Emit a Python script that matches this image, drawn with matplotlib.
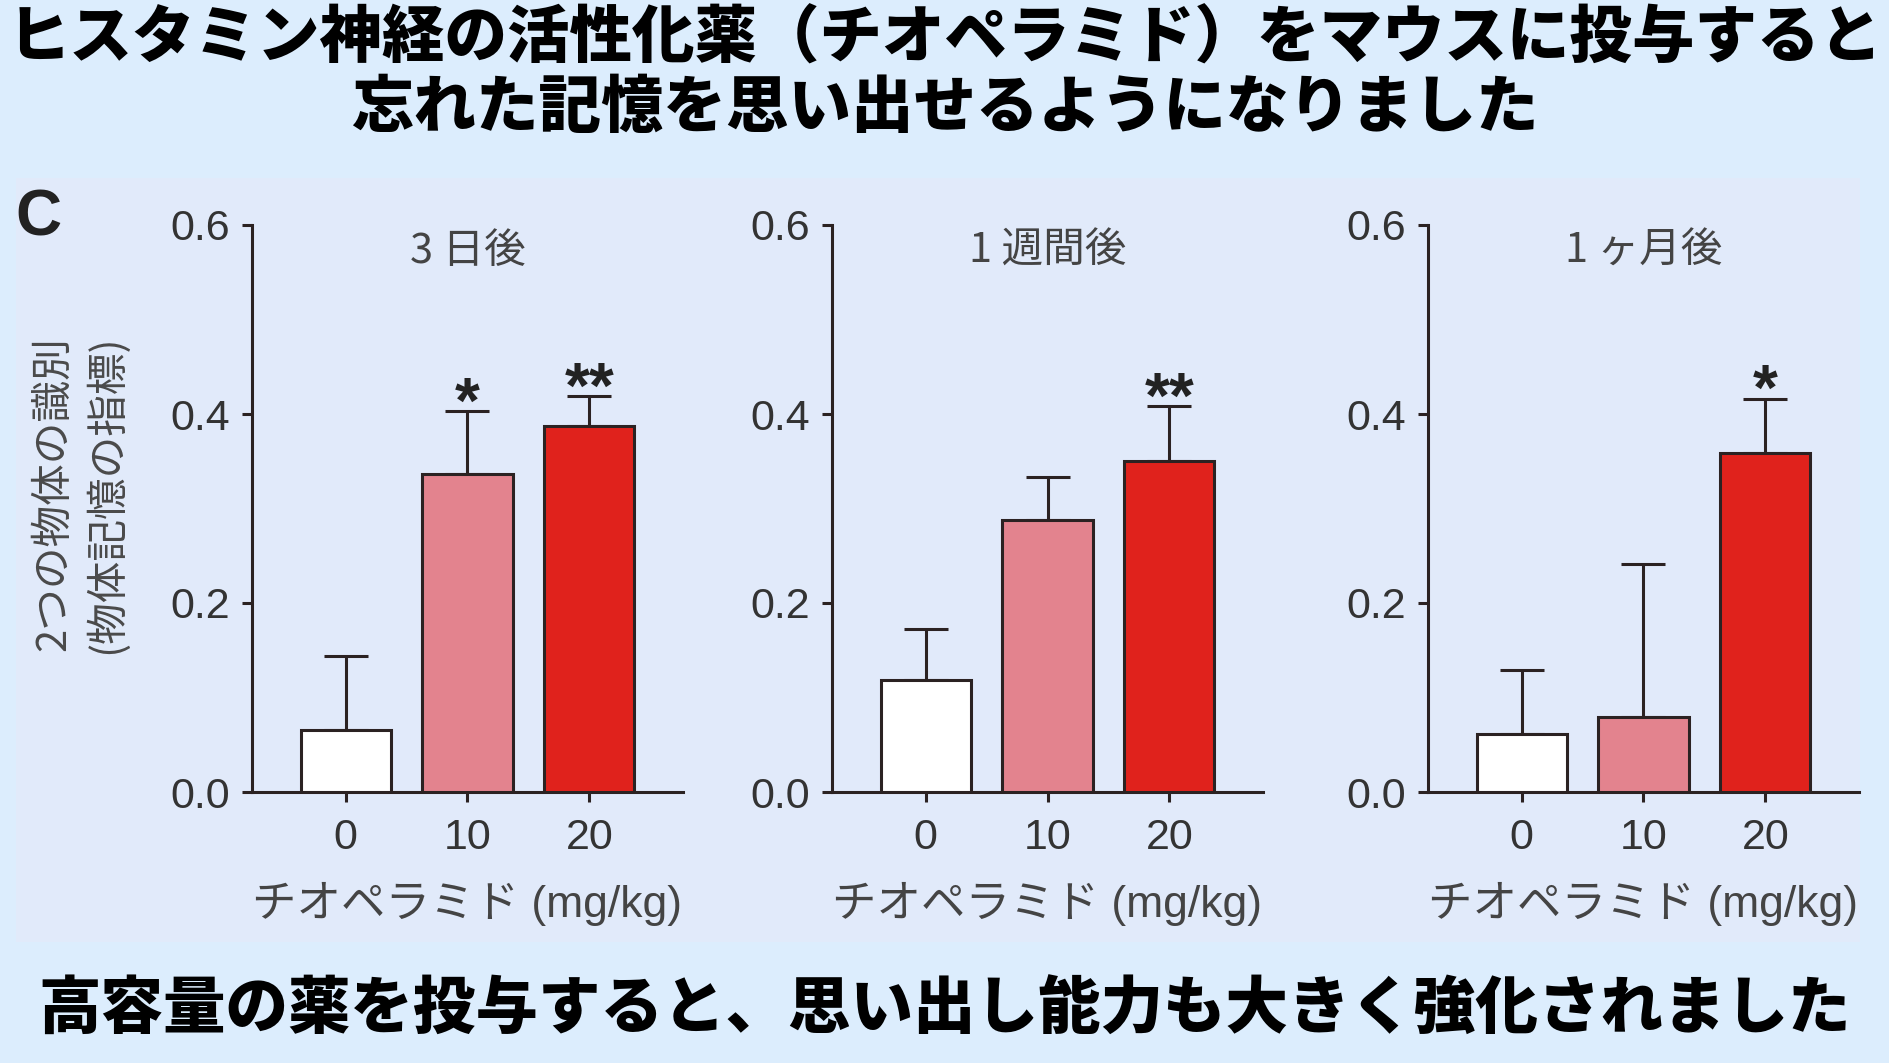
import matplotlib
matplotlib.use('Agg')
import matplotlib.pyplot as plt
from matplotlib.patches import Rectangle

# データ
doses = ['0', '10', '20']
panel_titles = ['3 日後', '1 週間後', '1 ヶ月後']
means_3d = [0.066, 0.336, 0.387]
err_3d = [0.078, 0.067, 0.032]
means_1w = [0.118, 0.288, 0.350]
err_1w = [0.055, 0.045, 0.058]
means_1m = [0.061, 0.079, 0.359]
err_1m = [0.068, 0.162, 0.057]
stars_3d = ['', '*', '**']
stars_1w = ['', '', '**']
stars_1m = ['', '', '*']
yticks = [0.0, 0.2, 0.4, 0.6]

title_lines = ['ヒスタミン神経の活性化薬（チオペラミド）をマウスに投与すると',
               '忘れた記憶を思い出せるようになりました']
bottom_text = '高容量の薬を投与すると、思い出し能力も大きく強化されました'
ylabel_lines = ['2つの物体の識別', '(物体記憶の指標)']
xlabel_text = 'チオペラミド (mg/kg)'

bar_colors = ['#ffffff', '#e3838e', '#e0221c']
line_c = '#2b2222'
outer_bg = '#dcedfd'
inner_bg = '#e1eafa'

JP = ['Noto Sans CJK JP', 'DejaVu Sans']
NUM = ['Liberation Sans', 'Noto Sans CJK JP', 'DejaVu Sans']

W, H = 1890, 1063
fig = plt.figure(figsize=(W / 100, H / 100), dpi=100)
fig.patch.set_facecolor(outer_bg)

# 中央のグラフ領域
fig.patches.append(Rectangle((16 / W, 1 - 942 / H), 1844 / W, 764 / H,
                             transform=fig.transFigure, facecolor=inner_bg,
                             edgecolor='none', zorder=-10))

panels = [
    (252, means_3d, err_3d, stars_3d, panel_titles[0]),
    (832, means_1w, err_1w, stars_1w, panel_titles[1]),
    (1428, means_1m, err_1m, stars_1m, panel_titles[2]),
]

ax_w = 431
ax_bottom, ax_top = 792, 225
for left, means, errs, stars, ttl in panels:
    ax = fig.add_axes([left / W, 1 - ax_bottom / H, ax_w / W, (ax_bottom - ax_top) / H])
    ax.set_facecolor('none')
    x = list(range(len(doses)))
    ax.bar(x, means, width=0.74, color=bar_colors, edgecolor=line_c, linewidth=2.2, zorder=3)
    ax.errorbar(x, means, yerr=[[0] * len(errs), errs], fmt='none', ecolor=line_c,
                elinewidth=2.2, capsize=16, capthick=2.2, zorder=2)
    # 有意差の星印
    for xi, m, e, s in zip(x, means, errs, stars):
        if s:
            ax.text(xi, m + e - 0.012, s, ha='center', va='baseline', fontsize=46,
                    fontweight='bold', color='#222222', family=NUM)
    ax.set_xlim(-0.77, 2.77)
    ax.set_ylim(0, 0.6)
    ax.set_xticks(x)
    ax.set_xticklabels(doses, family=NUM)
    ax.set_yticks(yticks)
    ax.set_yticklabels([f'{v:.1f}' for v in yticks], family=NUM)
    ax.tick_params(axis='both', colors=line_c, labelcolor='#333333', labelsize=31,
                   width=2.2, length=7.5, direction='out')
    ax.tick_params(axis='x', pad=11)
    ax.tick_params(axis='y', pad=8)
    for sp in ['top', 'right']:
        ax.spines[sp].set_visible(False)
    for sp in ['left', 'bottom']:
        ax.spines[sp].set_color(line_c)
        ax.spines[sp].set_linewidth(2.2)
    ax.text(0.5, 0.954, ttl, transform=ax.transAxes, ha='center', va='center',
            fontsize=30, color='#444444', family=JP)
    ax.text(0.5, -0.198, xlabel_text, transform=ax.transAxes, ha='center', va='center',
            fontsize=32, color='#444444', family=NUM)

# y軸ラベル (2行)
fig.text(54 / W, 1 - 494 / H, ylabel_lines[0], rotation=90, ha='center', va='center',
         fontsize=30, color='#4a4a4a', family=JP)
fig.text(106 / W, 1 - 494 / H, ylabel_lines[1], rotation=90, ha='center', va='center',
         fontsize=30, color='#4a4a4a', family=JP)

fig.text(38 / W, 1 - 218 / H, 'C', ha='center', va='center', fontsize=46,
         fontweight='bold', color='#222222', family=NUM)

# タイトルと下のまとめ
fig.text(0.5, 1 - 39 / H, title_lines[0], ha='center', va='center', fontsize=45,
         fontweight='heavy', color='black', family=JP)
fig.text(0.5, 1 - 108 / H, title_lines[1], ha='center', va='center', fontsize=45,
         fontweight='heavy', color='black', family=JP)
fig.text(0.5, 1 - 1010 / H, bottom_text, ha='center', va='center', fontsize=45,
         fontweight='heavy', color='black', family=JP)

fig.savefig('out.png', dpi=100, facecolor=fig.get_facecolor())
